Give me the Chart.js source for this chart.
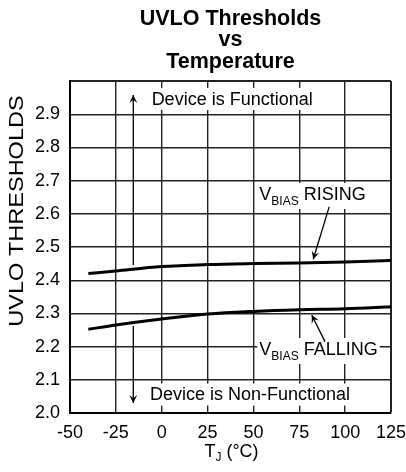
<!DOCTYPE html>
<html>
<head>
<meta charset="utf-8">
<script src="https://cdn.jsdelivr.net/npm/chart.js@4.4.1/dist/chart.umd.min.js"></script>
<style>
  html, body { margin: 0; padding: 0; background: #fff; }
  #wrap { width: 406px; height: 472px; }
</style>
</head>
<body>
<div id="wrap"><canvas id="c" width="406" height="472"></canvas></div>
<script>
// ---- data ----
const temps = [-40, -25, 0, 25, 50, 75, 100, 125];
const risingV = [2.420, 2.428, 2.441, 2.447, 2.450, 2.452, 2.455, 2.459];
const fallingV = [2.252, 2.265, 2.283, 2.298, 2.306, 2.311, 2.314, 2.320];
const xTicks = [-50, -25, 0, 25, 50, 75, 100, 125];
const yTickLabels = ['2.0','2.1','2.2','2.3','2.4','2.5','2.6','2.7','2.8','2.9'];
const titleLines = ['UVLO Thresholds', 'vs', 'Temperature'];

const FONT = "'Liberation Sans', Arial, sans-serif";

// annotation placement (data units)
const notes = {
  functional: { x: -5.5, y: 2.946, text: 'Device is Functional' },
  nonFunctional: { x: -6.4, y: 2.0557, text: 'Device is Non-Functional' },
  rising: { x: 53.2, y: 2.6416, parts: [['V', 18, 0], ['BIAS', 12, 5], [' RISING', 18, 0]] },
  falling: { x: 53.2, y: 2.1747, parts: [['V', 18, 0], ['BIAS', 12, 5], [' FALLING', 18, 0]] },
  arrows: [
    { x1: -15.5, y1: 2.4458, x2: -15.5, y2: 2.958 },
    { x1: -15.5, y1: 2.262, x2: -15.5, y2: 2.030 },
    { x1: 91.3, y1: 2.621, x2: 82.6, y2: 2.463 },
    { x1: 89.0, y1: 2.215, x2: 81.8, y2: 2.295 }
  ]
};

function toPts(xs, ys) { return xs.map((x, i) => ({ x: x, y: ys[i] })); }

function partsWidth(ctx, parts) {
  let w = 0;
  parts.forEach(p => { ctx.font = p[1] + 'px ' + FONT; w += ctx.measureText(p[0]).width; });
  return w;
}
function drawParts(ctx, x, y, parts) {
  let cx = x;
  ctx.textAlign = 'left';
  ctx.textBaseline = 'alphabetic';
  parts.forEach(p => {
    ctx.font = p[1] + 'px ' + FONT;
    ctx.fillText(p[0], cx, y + p[2]);
    cx += ctx.measureText(p[0]).width;
  });
}
function arrowHead(ctx, x1, y1, x2, y2) {
  const a = Math.atan2(y2 - y1, x2 - x1);
  const L = 8, W = 4;
  ctx.save();
  ctx.translate(x2, y2);
  ctx.rotate(a);
  ctx.beginPath();
  ctx.moveTo(0, 0);
  ctx.lineTo(-L, -W);
  ctx.lineTo(-L * 0.6, 0);
  ctx.lineTo(-L, W);
  ctx.closePath();
  ctx.fill();
  ctx.restore();
}

const annot = {
  id: 'annot',
  beforeDatasetsDraw(chart) {
    const { ctx, scales: { x, y } } = chart;
    ctx.save();
    ctx.fillStyle = '#000';
    // plain labels with white boxes
    [notes.functional, notes.nonFunctional].forEach(n => {
      ctx.font = '18px ' + FONT;
      const w = ctx.measureText(n.text).width;
      const px = x.getPixelForValue(n.x), py = y.getPixelForValue(n.y);
      ctx.fillStyle = '#fff';
      ctx.fillRect(px - 4, py - 11, w + 8, 22);
      ctx.fillStyle = '#000';
      ctx.textAlign = 'left';
      ctx.textBaseline = 'middle';
      ctx.fillText(n.text, px, py + 1);
    });
    [notes.rising, notes.falling].forEach(n => {
      const w = partsWidth(ctx, n.parts);
      const px = x.getPixelForValue(n.x), py = y.getPixelForValue(n.y);
      ctx.fillStyle = '#fff';
      ctx.fillRect(px - 2, py - 17, w + 4, 26);
      ctx.fillStyle = '#000';
      drawParts(ctx, px, py, n.parts);
    });
    ctx.restore();
  },
  afterDatasetsDraw(chart) {
    const { ctx, scales: { x, y } } = chart;
    ctx.save();
    ctx.strokeStyle = '#000';
    ctx.fillStyle = '#000';
    ctx.lineWidth = 1.3;
    notes.arrows.forEach(a => {
      const x1 = x.getPixelForValue(a.x1), y1 = y.getPixelForValue(a.y1);
      const x2 = x.getPixelForValue(a.x2), y2 = y.getPixelForValue(a.y2);
      ctx.beginPath();
      ctx.moveTo(x1, y1);
      ctx.lineTo(x2, y2);
      ctx.stroke();
      arrowHead(ctx, x1, y1, x2, y2);
    });
    ctx.restore();
  },
  afterDraw(chart) {
    const { ctx, chartArea } = chart;
    ctx.save();
    ctx.fillStyle = '#000';
    // y-axis title
    ctx.translate(17.5, chartArea.top + 130);
    ctx.rotate(-Math.PI / 2);
    ctx.scale(1.12, 1);
    ctx.font = '21px ' + FONT;
    ctx.textAlign = 'center';
    ctx.textBaseline = 'middle';
    ctx.fillText('UVLO THRESHOLDS', 0, 0);
    ctx.restore();
    // x-axis title T_J (°C)
    ctx.save();
    ctx.fillStyle = '#000';
    const parts = [['T', 18, 0], ['J', 12, 4], [' (°C)', 18, 0]];
    const w = partsWidth(ctx, parts);
    const cx = (chartArea.left + chartArea.right) / 2 + 1;
    drawParts(ctx, cx - w / 2, chartArea.bottom + 44, parts);
    ctx.restore();
  }
};

new Chart(document.getElementById('c'), {
  type: 'line',
  data: {
    datasets: [
      { label: 'VBIAS RISING', data: toPts(temps, risingV) },
      { label: 'VBIAS FALLING', data: toPts(temps, fallingV) }
    ]
  },
  options: {
    responsive: false,
    animation: false,
    devicePixelRatio: 1,
    layout: { padding: { top: 0, right: 15, bottom: 0, left: 0 } },
    elements: {
      line: { borderColor: '#000', borderWidth: 3, cubicInterpolationMode: 'monotone', fill: false },
      point: { radius: 0 }
    },
    plugins: {
      legend: { display: false },
      tooltip: { enabled: false },
      title: {
        display: true,
        fullSize: false,
        text: titleLines,
        color: '#000',
        font: { family: FONT, size: 21.5, weight: 'bold', lineHeight: 1.0 },
        padding: { top: 8, bottom: 8.5 }
      }
    },
    scales: {
      x: {
        type: 'linear',
        min: -50, max: 125,
        afterBuildTicks(s) { s.ticks = xTicks.map(v => ({ value: v })); },
        afterFit(s) { s.height = 59; s.paddingLeft = 0; s.paddingRight = 0; },
        ticks: {
          color: '#000', padding: 9, maxRotation: 0, autoSkip: false,
          font: { family: FONT, size: 18 },
          callback: v => String(v)
        },
        grid: {
          color: '#222',
          lineWidth: c => (c.tick && c.tick.value === 125 ? 2 : 1.4),
          drawTicks: false
        },
        border: { display: true, color: '#000', width: 2 }
      },
      y: {
        type: 'linear',
        min: 2.0, max: 3.0,
        afterBuildTicks(s) {
          const t = yTickLabels.map(l => ({ value: parseFloat(l) }));
          t.push({ value: 3.0 });
          s.ticks = t;
        },
        afterFit(s) { s.width = 70; s.paddingTop = 0; s.paddingBottom = 0; },
        ticks: {
          color: '#000', padding: 10, autoSkip: false,
          font: { family: FONT, size: 18 },
          callback: (v, i) => (i < yTickLabels.length ? yTickLabels[i] : '')
        },
        grid: {
          color: '#222',
          lineWidth: c => (c.tick && c.tick.value === 3.0 ? 2 : 1.4),
          drawTicks: false
        },
        border: { display: true, color: '#000', width: 2 }
      }
    }
  },
  plugins: [annot]
});
</script>
</body>
</html>
